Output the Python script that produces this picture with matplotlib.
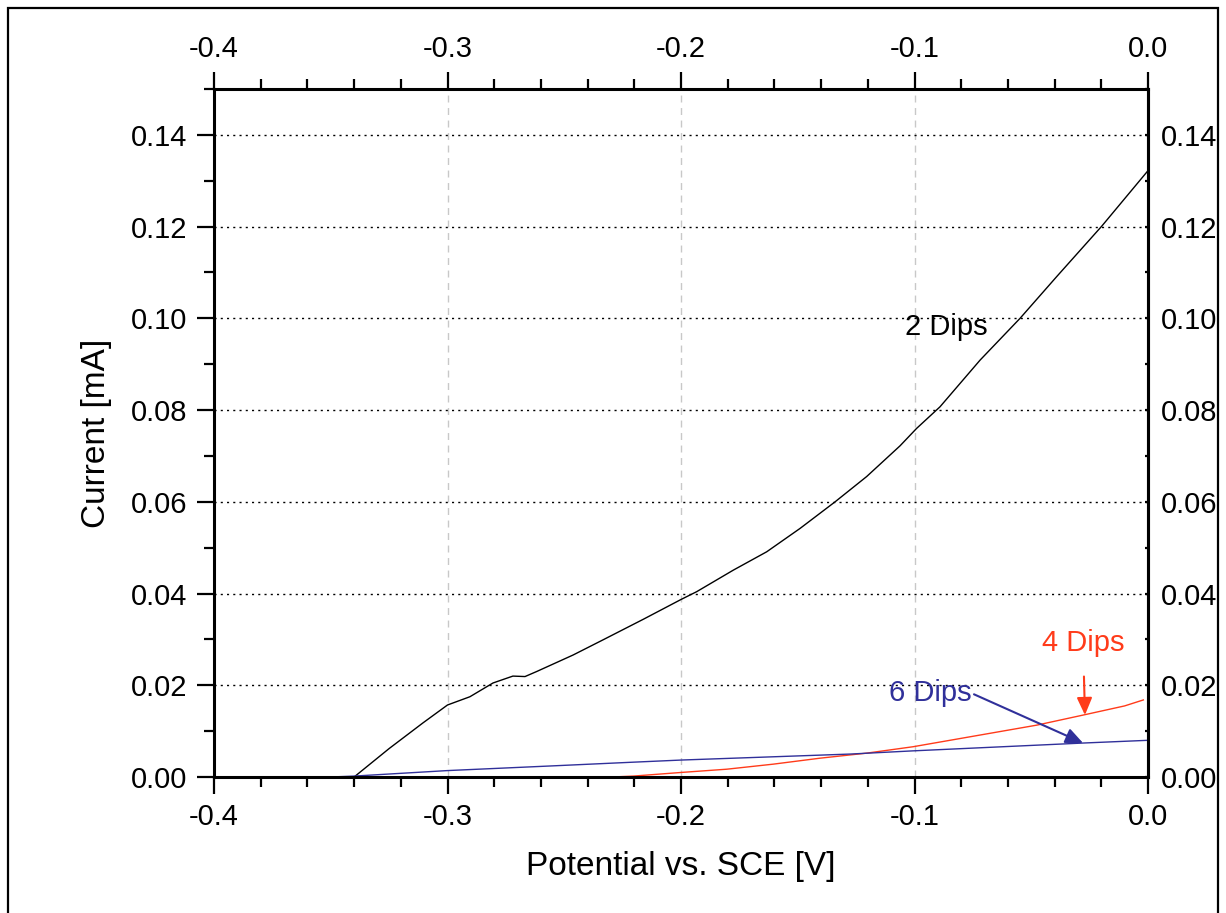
import numpy as np
import matplotlib
matplotlib.use('Agg')
import matplotlib.pyplot as plt
from matplotlib.patches import Rectangle
from matplotlib.ticker import MultipleLocator

plt.rcParams['font.family'] = ['Liberation Sans', 'DejaVu Sans']

# 2 Dips (black)
pot_2 = [-0.340, -0.325, -0.3105, -0.300, -0.2904, -0.2805, -0.272, -0.2668, -0.2618,
         -0.2462, -0.2334, -0.2161, -0.200, -0.1933, -0.1776, -0.1633, -0.149, -0.134,
         -0.1205, -0.1062, -0.0991, -0.0891, -0.0719, -0.0548, -0.0391, -0.0198, 0.0]
cur_2 = [0.0, 0.0062, 0.0118, 0.0157, 0.0175, 0.0205, 0.0220, 0.0219, 0.0230,
         0.0266, 0.0299, 0.0344, 0.0387, 0.0404, 0.0451, 0.0491, 0.0542, 0.0600,
         0.0655, 0.0722, 0.0760, 0.0807, 0.0909, 0.1000, 0.1091, 0.1201, 0.1322]

# 4 Dips (red)
pot_4 = [-0.2475, -0.2204, -0.1997, -0.1804, -0.1605, -0.1405, -0.1205, -0.1006,
         -0.0477, -0.0278, -0.010, -0.002]
cur_4 = [-0.0004, 0.0002, 0.0010, 0.0017, 0.0028, 0.0041, 0.0052, 0.0066,
         0.0113, 0.0135, 0.0155, 0.0168]

# 6 Dips (blue)
pot_6 = [-0.360, -0.340, -0.300, -0.2561, -0.2218, -0.1997, -0.1276, -0.1006, -0.028, 0.0]
cur_6 = [-0.0002, 0.0002, 0.0014, 0.0024, 0.0032, 0.0037, 0.0050, 0.0057, 0.0074, 0.0080]

red = '#ff3b1a'
blue = '#30309a'

fig = plt.figure(figsize=(12.26, 9.13), dpi=100)
ax = fig.add_axes([214 / 1226, 136 / 913, 934 / 1226, 688 / 913])

ax.plot(pot_2, cur_2, color='black', lw=1.0)
ax.plot(pot_4, cur_4, color=red, lw=1.0)
ax.plot(pot_6, cur_6, color=blue, lw=1.0)

ax.set_xlim(-0.4, 0.0)
ax.set_ylim(0, 0.15)

fmt_x = plt.FuncFormatter(lambda v, p: f'{v:.1f}')
fmt_y = plt.FuncFormatter(lambda v, p: f'{v:.2f}')
ax.xaxis.set_major_locator(MultipleLocator(0.1))
ax.xaxis.set_minor_locator(MultipleLocator(0.02))
ax.yaxis.set_major_locator(MultipleLocator(0.02))
ax.yaxis.set_minor_locator(MultipleLocator(0.01))
ax.xaxis.set_major_formatter(fmt_x)
ax.yaxis.set_major_formatter(fmt_y)

ax.tick_params(which='both', direction='out', top=True, right=False,
               labeltop=True, labelright=False, labelsize=21, width=1.6, pad=7)
ax.tick_params(which='major', length=12)
ax.tick_params(which='minor', length=7)
for s in ax.spines.values():
    s.set_linewidth(2.2)

# right axis: tiny inward ticks
sec = ax.secondary_yaxis('right')
sec.yaxis.set_major_locator(MultipleLocator(0.02))
sec.yaxis.set_minor_locator(MultipleLocator(0.01))
sec.yaxis.set_major_formatter(fmt_y)
sec.tick_params(which='both', direction='in', length=2.5, width=1.6, labelsize=21, pad=9)
sec.spines['right'].set_linewidth(2.2)

ax.grid(axis='y', which='major', linestyle=(0, (1.5, 3)), color='black', lw=1.0)
ax.grid(axis='x', which='major', linestyle=(0, (5, 4)), color='#c8c8c8', lw=1.0)

ax.set_xlabel('Potential vs. SCE [V]', fontsize=24, labelpad=14)
ax.set_ylabel('Current [mA]', fontsize=24, labelpad=14)

ax.text(-0.0865, 0.0981, '2 Dips', fontsize=21, ha='center', va='center', color='black')
ax.annotate('4 Dips', xy=(-0.027, 0.0135), xytext=(-0.0278, 0.0292), fontsize=21,
            ha='center', va='center', color=red,
            arrowprops=dict(arrowstyle='-|>,head_length=0.5,head_width=0.22', color=red, lw=1.5,
                            shrinkA=12, shrinkB=0))
ax.annotate('6 Dips', xy=(-0.0278, 0.0074), xytext=(-0.0934, 0.0183), fontsize=21,
            ha='center', va='center', color=blue,
            arrowprops=dict(arrowstyle='-|>,head_length=0.5,head_width=0.22', color=blue, lw=1.5,
                            shrinkA=0, shrinkB=0, relpos=(1.0, 0.5)))

fig.patches.append(Rectangle((8 / 1226, -0.01), 1210 / 1226, 1 - 8 / 913 + 0.01,
                             transform=fig.transFigure, fill=False, edgecolor='black', lw=1.6))

fig.savefig('out.png', dpi=100)
